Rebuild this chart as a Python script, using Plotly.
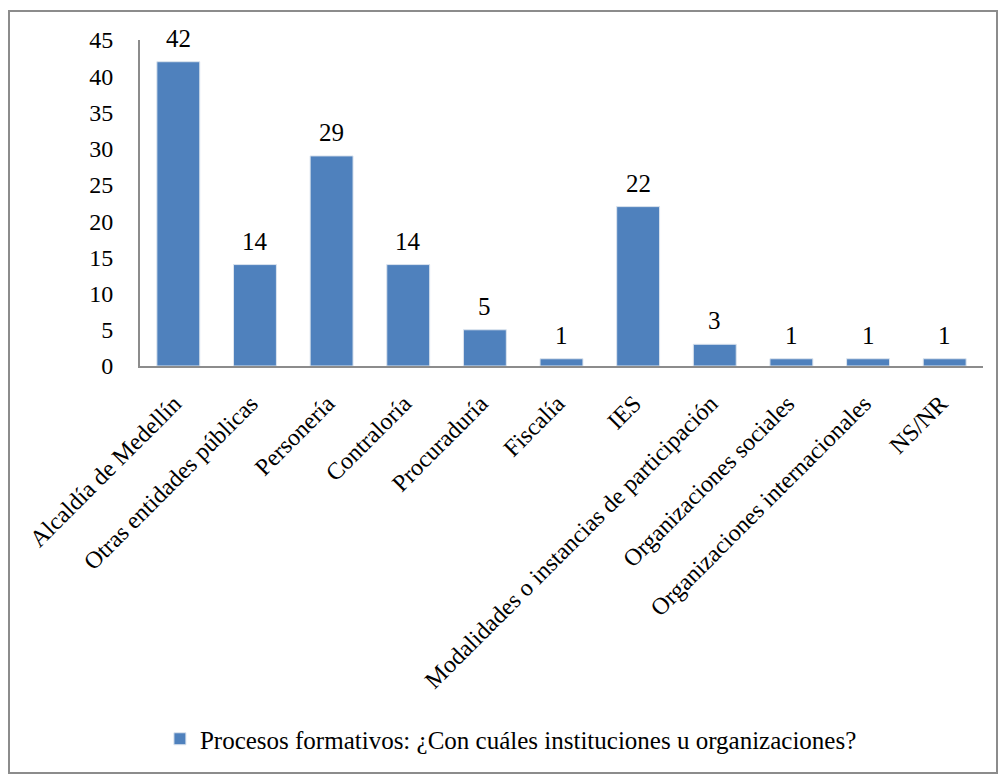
import plotly.graph_objects as go

categories = ["Alcaldía de Medellín", "Otras entidades públicas", "Personería", "Contraloría",
              "Procuraduría", "Fiscalía", "IES", "Modalidades o instancias de participación",
              "Organizaciones sociales", "Organizaciones internacionales", "NS/NR"]
values = [42, 14, 29, 14, 5, 1, 22, 3, 1, 1, 1]
series_name = "Procesos formativos: ¿Con cuáles instituciones u organizaciones?"
y_ticks = [0, 5, 10, 15, 20, 25, 30, 35, 40, 45]

FONT = "Liberation Serif"

fig = go.Figure()
fig.add_trace(go.Bar(
    x=categories, y=values, name=series_name,
    marker=dict(color="#4F81BD", line=dict(color="#DCE4EE", width=1)),
    showlegend=True,
))

for c, v in zip(categories, values):
    fig.add_annotation(x=c, y=v, text=str(v), showarrow=False, yanchor="bottom",
                       yshift=8, font=dict(family=FONT, size=25, color="black"))

W, H = 999, 775
ml, mr, mt, mb = 140, 16, 40, 409
pw, ph = W - ml - mr, H - mt - mb

def px_x(x):
    return (x - ml) / pw

def px_y(y):
    return (H - mb - y) / ph

fig.update_layout(
    width=W, height=H,
    margin=dict(l=ml, r=mr, t=mt, b=mb, autoexpand=False),
    paper_bgcolor="white", plot_bgcolor="white",
    font=dict(family=FONT, size=20, color="black"),
    bargap=0.44,
    xaxis=dict(showline=True, linecolor="#8C8C8C", linewidth=2, tickangle=-45,
               tickfont=dict(family=FONT, size=24), ticks="", showgrid=False,
               ticklabelshift=-4, ticklabelstandoff=12, automargin=False),
    yaxis=dict(range=[0, 45], tickvals=y_ticks, showline=True, linecolor="#8C8C8C",
               linewidth=2, ticks="", showgrid=False, zeroline=False,
               tickfont=dict(family=FONT, size=24), ticklabelstandoff=20, automargin=False),
    legend=dict(orientation="h", x=0.44, xanchor="center", y=px_y(762), yanchor="bottom",
                font=dict(family=FONT, size=25)),
    shapes=[dict(type="rect", xref="paper", yref="paper",
                 x0=px_x(9), x1=px_x(997), y0=px_y(773), y1=px_y(11),
                 line=dict(color="#8C8C8C", width=2), fillcolor="rgba(0,0,0,0)")],
)

fig.write_html("out.html", config={"displayModeBar": False},
               post_script="document.body.style.margin='0';document.body.style.overflow='hidden';")
